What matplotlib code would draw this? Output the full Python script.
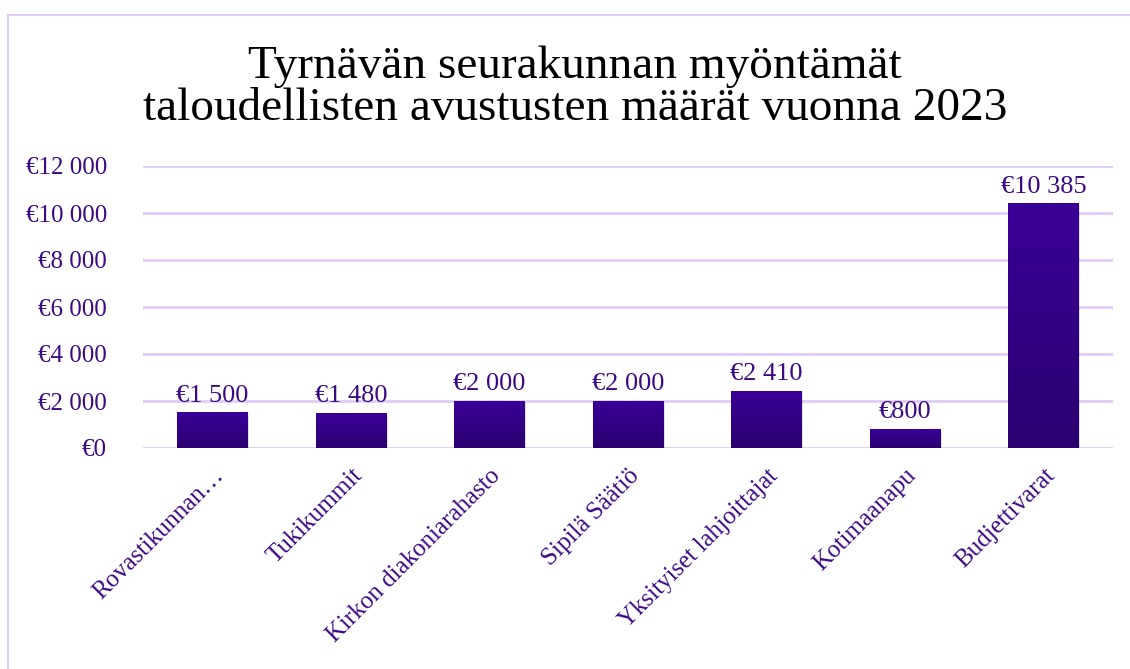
import numpy as np
import matplotlib
matplotlib.use("Agg")
import matplotlib.pyplot as plt
from matplotlib.patches import Rectangle

# ── data ─────────────────────────────────────────────────────────────────────
categories = ["Rovastikunnan…", "Tukikummit", "Kirkon diakoniarahasto",
              "Sipilä Säätiö", "Yksityiset lahjoittajat", "Kotimaanapu",
              "Budjettivarat"]
amounts = [1500, 1480, 2000, 2000, 2410, 800, 10385]
yticks = [0, 2000, 4000, 6000, 8000, 10000, 12000]
title = "Tyrnävän seurakunnan myöntämät\ntaloudellisten avustusten määrät vuonna 2023"

TEXT = "#3b0a85"
GRID = "#e0cdf7"


def euro(v):
    return "€" + f"{v:,}".replace(",", " ")


plt.rcParams["font.family"] = ["Liberation Serif", "DejaVu Serif"]

fig = plt.figure(figsize=(11.3, 6.69), dpi=100)
ax = fig.add_axes([143 / 1130, 1 - 448 / 669, (1113 - 143) / 1130, (448 - 166) / 669])

# outer chart frame
fig.patches.append(Rectangle((8 / 1130, -0.1), 1.2, 1 - 15 / 669 + 0.1,
                             transform=fig.transFigure, fill=False,
                             edgecolor=GRID, lw=1.5))

x = np.arange(len(categories))
bars = ax.bar(x, amounts, width=0.51, color="none", zorder=3)

# gradient fill + soft shadow
grad = np.linspace(0, 1, 256).reshape(-1, 1)
cmap = matplotlib.colors.LinearSegmentedColormap.from_list("g", ["#2b0070", "#3a0098"])
for b in bars:
    x0, w, h = b.get_x(), b.get_width(), b.get_height()
    ax.add_patch(Rectangle((x0 + 0.01, -90), w, h, color="#000000", alpha=0.12,
                           zorder=2, lw=0))
    ax.imshow(grad, extent=(x0, x0 + w, 0, h), origin="lower", cmap=cmap,
              aspect="auto", zorder=3)
    ax.text(x0 + w / 2, h + 250, euro(int(h)), ha="center", va="bottom",
            color=TEXT, fontsize=19)

ax.set_xlim(-0.5, len(categories) - 0.5)
ax.set_ylim(0, 12000)
ax.set_yticks(yticks)
ax.set_yticklabels([euro(v) for v in yticks], color=TEXT, fontsize=18)
ax.set_xticks(x)
ax.set_xticklabels(categories, rotation=45, ha="right", rotation_mode="anchor",
                   color=TEXT, fontsize=18)
ax.tick_params(axis="both", length=0)
ax.tick_params(axis="y", pad=26)
ax.tick_params(axis="x", pad=12)
ax.grid(axis="y", color=GRID, lw=2, zorder=0)
ax.set_axisbelow(True)
for s in ax.spines.values():
    s.set_visible(False)

fig.text(575 / 1130, 1 - 88 / 669, title, ha="center", va="center",
         fontsize=34, color="black", linespacing=1.0)

fig.savefig("out.png", dpi=100)
